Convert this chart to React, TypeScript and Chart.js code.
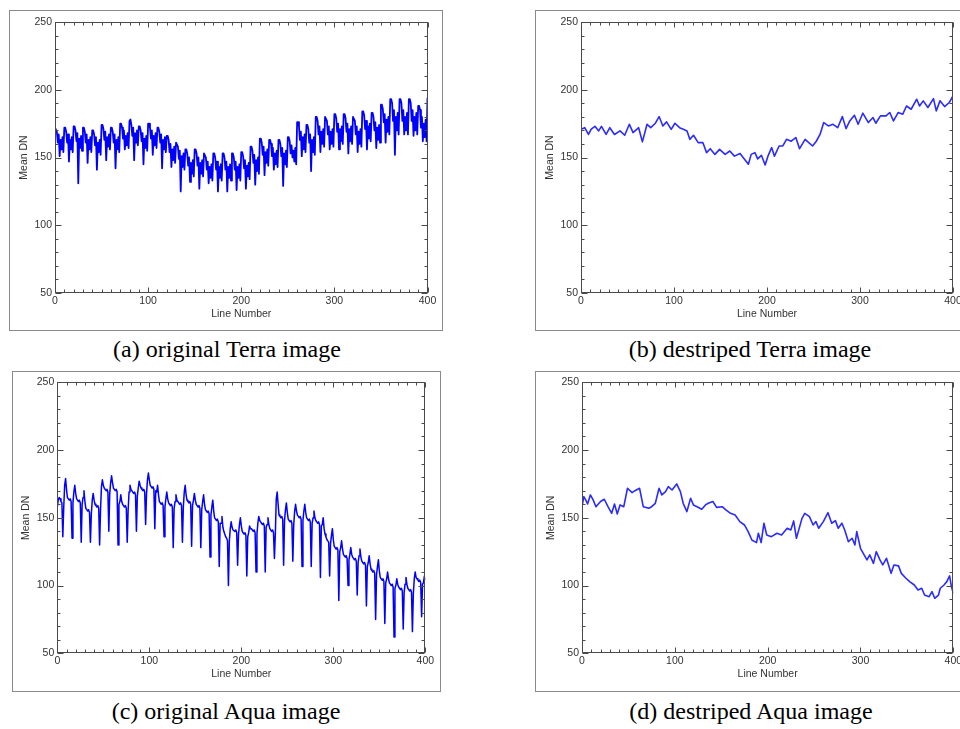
import React, { useEffect, useRef } from "react";
import { Chart, registerables } from "chart.js";

Chart.register(...registerables);

// ---------------- data ----------------
const X_TICKS = [0, 100, 200, 300, 400];
const Y_TICKS = [50, 100, 150, 200, 250];
const X_TITLE = "Line Number";
const Y_TITLE = "Mean DN";

const CAPTIONS = [
  "(a) original Terra image",
  "(b) destriped Terra image",
  "(c) original Aqua image",
  "(d) destriped Aqua image",
];

// (a) mean DN per line, original Terra image (lines 0..400)
const TERRA_ORIGINAL: number[] = [
  172, 172, 169, 161, 167, 151, 163, 156, 165, 154,
  172, 172, 169, 161, 167, 147, 163, 156, 165, 154,
  173, 173, 170, 162, 168, 131, 164, 157, 166, 155,
  172, 172, 169, 161, 167, 146, 163, 156, 165, 154,
  170, 170, 167, 159, 165, 141, 161, 154, 163, 152,
  174, 174, 171, 163, 169, 148, 165, 158, 167, 156,
  172, 172, 169, 161, 167, 142, 163, 156, 165, 154,
  175, 175, 172, 164, 170, 156, 166, 159, 168, 157,
  177, 178, 174, 166, 172, 148, 168, 161, 170, 159,
  173, 173, 170, 162, 168, 145, 164, 157, 166, 155,
  175, 175, 172, 164, 170, 152, 166, 159, 168, 157,
  172, 172, 169, 161, 167, 142, 163, 156, 165, 154,
  166, 166, 163, 154, 160, 143, 156, 148, 158, 146,
  161, 161, 158, 149, 155, 125, 151, 143, 153, 141,
  156, 156, 153, 144, 150, 132, 146, 138, 148, 136,
  156, 156, 153, 144, 150, 127, 146, 138, 148, 136,
  153, 153, 150, 141, 147, 131, 143, 135, 145, 133,
  153, 153, 150, 141, 147, 125, 143, 135, 145, 133,
  153, 153, 150, 141, 147, 125, 143, 135, 145, 133,
  153, 153, 150, 141, 147, 126, 143, 135, 145, 133,
  154, 154, 151, 142, 148, 127, 144, 136, 146, 134,
  158, 158, 155, 146, 152, 130, 148, 140, 150, 138,
  164, 164, 161, 152, 158, 137, 154, 146, 156, 144,
  163, 163, 160, 151, 157, 141, 153, 145, 155, 143,
  163, 163, 160, 151, 157, 129, 153, 145, 155, 143,
  165, 165, 162, 153, 159, 150, 155, 147, 157, 145,
  176, 176, 173, 163, 169, 151, 165, 156, 167, 154,
  174, 174, 171, 161, 167, 140, 163, 154, 165, 152,
  180, 180, 177, 167, 173, 154, 169, 160, 171, 158,
  180, 180, 177, 167, 173, 156, 169, 160, 171, 158,
  182, 182, 179, 169, 175, 156, 171, 162, 173, 160,
  182, 182, 179, 169, 175, 153, 171, 162, 173, 160,
  180, 180, 177, 167, 173, 154, 169, 160, 171, 158,
  184, 184, 181, 171, 177, 156, 173, 164, 175, 162,
  183, 183, 180, 170, 176, 157, 172, 163, 174, 161,
  189, 189, 186, 176, 182, 161, 178, 169, 180, 167,
  193, 193, 190, 177, 185, 152, 180, 170, 183, 167,
  193, 193, 190, 177, 185, 167, 180, 170, 183, 167,
  193, 193, 190, 177, 185, 166, 180, 170, 183, 167,
  188, 188, 185, 172, 180, 162, 175, 165, 178, 162,
  194,
];

// (b) destriped Terra image: line numbers and mean DN
const TERRA_DESTRIPED_LINES: number[] = [
  0, 4, 8, 11, 15, 19, 22, 27, 31, 36, 42, 47, 52, 56, 62, 66, 71, 75, 80, 84,
  88, 92, 97, 101, 106, 110, 114, 117, 121, 126, 131, 135, 139, 144, 149, 155, 160, 165, 171, 176,
  180, 183, 187, 190, 194, 198, 201, 205, 208, 213, 217, 221, 226, 231, 235, 241, 244, 249, 253, 257,
  261, 266, 271, 276, 281, 285, 289, 294, 298, 303, 309, 314, 317, 322, 328, 332, 336, 341, 346, 350,
  355, 361, 364, 368, 373, 379, 382, 386, 391, 396, 400,
];
const TERRA_DESTRIPED_DN: number[] = [
  170.8, 172, 167, 171, 173, 169.6, 173, 167, 172, 167, 169.6, 166.4, 174.5, 168.4, 172, 161.5, 174.5, 172, 175.3, 180.2,
  173.3, 176.3, 170.8, 175.3, 172, 170.8, 169.6, 163.4, 166.4, 161, 161, 153.6, 156.5, 152.3, 156, 152.3, 154.8, 151, 153, 148.6,
  145, 152.3, 153.6, 149, 151.6, 144.5, 151, 157.3, 151, 158.5, 158.5, 163.4, 162, 164.7, 156.5, 163.4, 161.5, 158.5, 162, 167,
  175.8, 173.3, 174.5, 172, 180.2, 171.3, 177, 181.2, 174.5, 182.7, 175.8, 179.5, 175.3, 180.7, 180.7, 183.2, 177, 183.2, 182, 188,
  185.6, 193, 188, 191.8, 186.9, 193.5, 184.4, 191.8, 187.6, 190.6, 195.5,
];

// (c) mean DN per line, original Aqua image (lines 0..400)
const AQUA_ORIGINAL: number[] = [
  158, 163, 165, 164, 162, 161, 136, 158, 174, 179,
  171, 165, 164, 163, 164, 162, 135, 161, 169, 174,
  168, 164, 163, 162, 163, 161, 132, 160, 165, 170,
  162, 157, 156, 155, 156, 154, 132, 153, 163, 168,
  163, 160, 159, 158, 159, 157, 130, 156, 173, 178,
  174, 172, 171, 170, 171, 169, 140, 168, 176, 181,
  176, 172, 171, 170, 171, 169, 130, 160, 162, 167,
  162, 160, 159, 158, 159, 157, 132, 156, 169, 174,
  171, 170, 169, 168, 169, 167, 140, 166, 172, 177,
  174, 172, 171, 170, 171, 169, 145, 168, 178, 183,
  178, 174, 173, 172, 173, 171, 142, 170, 169, 174,
  167, 162, 161, 160, 161, 159, 136, 158, 164, 169,
  164, 161, 160, 159, 160, 158, 128, 157, 162, 167,
  163, 162, 161, 160, 161, 159, 132, 158, 169, 174,
  167, 163, 162, 161, 162, 160, 129, 159, 163, 168,
  163, 160, 159, 158, 159, 157, 128, 156, 162, 167,
  160, 156, 155, 154, 155, 153, 121, 152, 158, 163,
  155, 150, 149, 148, 149, 147, 114, 146, 146, 151,
  143, 140, 138, 136, 135, 133, 100, 133, 142, 147,
  143, 141, 141, 140, 141, 139, 115, 138, 145, 150,
  144, 140, 139, 138, 139, 137, 107, 136, 139, 144,
  142, 142, 141, 140, 141, 139, 110, 138, 146, 151,
  148, 147, 146, 145, 146, 144, 110, 143, 145, 150,
  145, 142, 141, 140, 141, 139, 120, 138, 164, 169,
  160, 152, 151, 150, 151, 149, 115, 148, 156, 161,
  154, 149, 148, 147, 148, 146, 118, 145, 155, 160,
  155, 152, 151, 150, 151, 149, 114, 148, 155, 160,
  154, 150, 149, 148, 149, 147, 114, 146, 150, 155,
  150, 148, 147, 146, 147, 145, 106, 144, 145, 150,
  142, 138, 136, 134, 133, 132, 107, 131, 137, 142,
  134, 129, 128, 127, 128, 126, 89, 125, 128, 133,
  127, 123, 122, 121, 122, 120, 100, 119, 123, 128,
  123, 121, 120, 119, 120, 118, 93, 117, 122, 127,
  121, 118, 117, 116, 117, 115, 85, 114, 117, 122,
  116, 112, 111, 110, 111, 109, 75, 108, 114, 119,
  111, 106, 105, 104, 105, 103, 72, 102, 105, 110,
  105, 102, 101, 100, 101, 99, 62, 98, 100, 105,
  101, 99, 98, 97, 98, 96, 68, 95, 101, 106,
  101, 98, 97, 96, 97, 95, 66, 94, 105, 110,
  106, 105, 104, 103, 104, 102, 77, 101, 102, 107,
  104,
];

// (d) destriped Aqua image: line numbers and mean DN
const AQUA_DESTRIPED_LINES: number[] = [
  0, 2, 4, 6, 9, 12, 15, 20, 24, 28, 32, 35, 38, 41, 45, 49, 54, 57, 62, 66,
  72, 75, 79, 83, 86, 90, 93, 97, 102, 106, 109, 113, 117, 120, 124, 129, 133, 136, 141, 145,
  151, 155, 160, 165, 170, 175, 179, 183, 188, 190, 193, 196, 199, 204, 210, 215, 221, 225, 228, 231,
  237, 240, 245, 249, 252, 255, 260, 265, 269, 273, 276, 280, 283, 287, 291, 294, 296, 300, 303, 307,
  310, 314, 317, 321, 324, 328, 333, 336, 341, 344, 349, 353, 358, 362, 366, 369, 374, 377, 380, 384,
  386, 390, 393, 396, 398, 400,
];
const AQUA_DESTRIPED_DN: number[] = [
  158.2, 165.6, 163.2, 160.2, 166.9, 163.2, 158.2, 162, 163.7, 158.2, 153.3, 160.2, 152.8, 159.5, 158.2, 171.8, 168.6, 170, 171.8, 158.2,
  157, 158.2, 160.7, 171.8, 166.9, 169.3, 173, 170.5, 175, 169.3, 160.7, 154.6, 164.4, 159.5, 158.2, 156.3, 159.5, 160.7, 162, 157.7,
  158.2, 155.8, 153.3, 152.1, 147.2, 144.7, 139.8, 133.6, 131.7, 138.6, 131.7, 146, 137.3, 136.1, 138.6, 137.3, 142.3, 141, 147.7, 134.9,
  149.6, 153.3, 150.9, 144.7, 147.2, 142.3, 147.2, 153.8, 146, 147.9, 142.3, 146, 141, 132.4, 134.9, 130, 139.8, 127.5, 123.8, 118.9,
  122.6, 116.4, 125, 118.9, 115.2, 120.1, 109, 115.2, 114.5, 109, 105.4, 102.9, 100.4, 96.7, 98, 93, 91.8, 95.5, 90.6, 93,
  98, 100.4, 102.9, 107.1, 99.2, 94.3,
];

// ---------------- styling / layout ----------------
const FONT_SANS = "'Liberation Sans', Arial, sans-serif";
const FONT_SERIF = "'Liberation Serif', 'Times New Roman', serif";
const LABEL_SIZE = 10.5;
const FRAME_COLOR = "#4a4a4a";
const TEXT_COLOR = "#333333";

type Rect = { l: number; t: number; r: number; b: number };
type PanelSpec = {
  box: Rect;
  plot: Rect;
  points: { x: number; y: number }[];
  color: string;
  width: number;
  caption: string;
  captionX: number;
  captionBaseline: number;
};

const byIndex = (vals: number[]) => vals.map((v, i) => ({ x: i, y: v }));
const byLines = (xs: number[], ys: number[]) => xs.map((x, i) => ({ x, y: ys[i] }));

const PANELS: PanelSpec[] = [
  {
    box: { l: 9, t: 10, r: 442, b: 330 },
    plot: { l: 55, t: 22, r: 427.5, b: 293 },
    points: byIndex(TERRA_ORIGINAL),
    color: "#0000ff",
    width: 1.8,
    caption: CAPTIONS[0],
    captionX: 227,
    captionBaseline: 357,
  },
  {
    box: { l: 535, t: 10, r: 975, b: 330 },
    plot: { l: 581, t: 22, r: 953, b: 293 },
    points: byLines(TERRA_DESTRIPED_LINES, TERRA_DESTRIPED_DN),
    color: "#2b2bff",
    width: 1.6,
    caption: CAPTIONS[1],
    captionX: 750,
    captionBaseline: 357,
  },
  {
    box: { l: 12, t: 371, r: 440, b: 691 },
    plot: { l: 57.3, t: 382.3, r: 425.3, b: 653.3 },
    points: byIndex(AQUA_ORIGINAL),
    color: "#0000ff",
    width: 1.5,
    caption: CAPTIONS[2],
    captionX: 226,
    captionBaseline: 719,
  },
  {
    box: { l: 535, t: 371, r: 975, b: 691 },
    plot: { l: 582, t: 382.3, r: 953.3, b: 653.3 },
    points: byLines(AQUA_DESTRIPED_LINES, AQUA_DESTRIPED_DN),
    color: "#2b2bff",
    width: 1.6,
    caption: CAPTIONS[3],
    captionX: 751,
    captionBaseline: 719,
  },
];

const X_MINOR = 10;
const Y_MINOR = 10;
const MAJOR_LEN = 5;
const MINOR_LEN = 3;

const idlFrame = {
  id: "idlFrame",
  afterDraw(chart: any) {
    const { ctx, chartArea: a, scales } = chart;
    const xs = scales.x;
    const ys = scales.y;
    const L = Math.round(a.left) + 0.5;
    const R = Math.round(a.right) - 0.5;
    const T = Math.round(a.top) + 0.5;
    const B = Math.round(a.bottom) - 0.5;
    ctx.save();
    ctx.strokeStyle = FRAME_COLOR;
    ctx.lineWidth = 1;
    ctx.strokeRect(L, T, R - L, B - T);
    ctx.beginPath();
    for (let v = xs.min; v <= xs.max + 1e-6; v += X_MINOR) {
      const px = Math.round(xs.getPixelForValue(v)) + 0.5;
      const len = X_TICKS.includes(v) ? MAJOR_LEN : MINOR_LEN;
      ctx.moveTo(px, B);
      ctx.lineTo(px, B - len);
      ctx.moveTo(px, T);
      ctx.lineTo(px, T + len);
    }
    for (let v = ys.min; v <= ys.max + 1e-6; v += Y_MINOR) {
      const py = Math.round(ys.getPixelForValue(v)) + 0.5;
      const len = Y_TICKS.includes(v) ? MAJOR_LEN + 1 : MINOR_LEN;
      ctx.moveTo(L, py);
      ctx.lineTo(L + len, py);
      ctx.moveTo(R, py);
      ctx.lineTo(R - len, py);
    }
    ctx.stroke();
    ctx.restore();
  },
};

function Panel({ spec }: { spec: PanelSpec }) {
  const ref = useRef<HTMLCanvasElement | null>(null);
  const { box, plot } = spec;
  const cl = box.l + 1;
  const ct = box.t + 1;
  const cw = box.r - box.l - 1;
  const ch = box.b - box.t - 1;

  useEffect(() => {
    if (!ref.current) return;
    const lh = LABEL_SIZE * 1.2;
    const yWidth = plot.l - cl;
    const xHeight = ct + ch - plot.b;
    const padTop = plot.t - ct;
    const padRight = cl + cw - plot.r;
    const yTitlePad = plot.l - 31 - cl - lh / 2;
    const xTitlePad = ct + ch - (plot.b + 21) - lh / 2;
    const font = { family: FONT_SANS, size: LABEL_SIZE };

    const chart = new Chart(ref.current, {
      type: "line",
      data: {
        datasets: [
          {
            data: spec.points,
            borderColor: spec.color,
            borderWidth: spec.width,
            borderJoinStyle: "round",
            pointRadius: 0,
            fill: false,
            tension: 0,
          },
        ],
      },
      options: {
        animation: false,
        responsive: false,
        maintainAspectRatio: false,
        devicePixelRatio: 1,
        layout: { padding: { left: 0, top: padTop, right: padRight, bottom: 0 } },
        plugins: { legend: { display: false }, tooltip: { enabled: false } },
        events: [],
        scales: {
          x: {
            type: "linear",
            min: X_TICKS[0],
            max: X_TICKS[X_TICKS.length - 1],
            grid: { display: false, drawTicks: false },
            border: { display: false },
            afterBuildTicks: (s: any) => {
              s.ticks = X_TICKS.map((v) => ({ value: v }));
            },
            ticks: { padding: 2, color: TEXT_COLOR, font, maxRotation: 0, autoSkip: false },
            title: {
              display: true,
              text: X_TITLE,
              color: TEXT_COLOR,
              font,
              padding: { top: 0, bottom: xTitlePad },
            },
            afterFit: (s: any) => {
              s.height = xHeight;
            },
          },
          y: {
            type: "linear",
            min: Y_TICKS[0],
            max: Y_TICKS[Y_TICKS.length - 1],
            grid: { display: false, drawTicks: false },
            border: { display: false },
            afterBuildTicks: (s: any) => {
              s.ticks = Y_TICKS.map((v) => ({ value: v }));
            },
            ticks: { padding: 3, color: TEXT_COLOR, font },
            title: {
              display: true,
              text: Y_TITLE,
              color: TEXT_COLOR,
              font,
              padding: { top: yTitlePad, bottom: 0 },
            },
            afterFit: (s: any) => {
              s.width = yWidth;
            },
          },
        },
      } as any,
      plugins: [idlFrame],
    });
    return () => chart.destroy();
  }, [spec]);

  return (
    <>
      <div
        style={{
          position: "absolute",
          left: box.l,
          top: box.t,
          width: box.r - box.l + 1,
          height: box.b - box.t + 1,
          boxSizing: "border-box",
          border: "1px solid #8a8a8a",
          background: "#fff",
        }}
      >
        <canvas
          ref={ref}
          width={cw}
          height={ch}
          style={{ position: "absolute", left: 0, top: 0, width: cw, height: ch, display: "block" }}
        />
      </div>
      <div
        style={{
          position: "absolute",
          left: spec.captionX - 200,
          width: 400,
          top: spec.captionBaseline - 20,
          textAlign: "center",
          fontFamily: FONT_SERIF,
          fontSize: 24,
          lineHeight: "24px",
          color: "#000",
          whiteSpace: "nowrap",
        }}
      >
        {spec.caption}
      </div>
    </>
  );
}

export default function App() {
  return (
    <div
      style={{
        position: "absolute",
        left: 0,
        top: 0,
        width: 960,
        height: 729,
        overflow: "hidden",
        background: "#fff",
      }}
    >
      {PANELS.map((p, i) => (
        <Panel key={i} spec={p} />
      ))}
    </div>
  );
}
